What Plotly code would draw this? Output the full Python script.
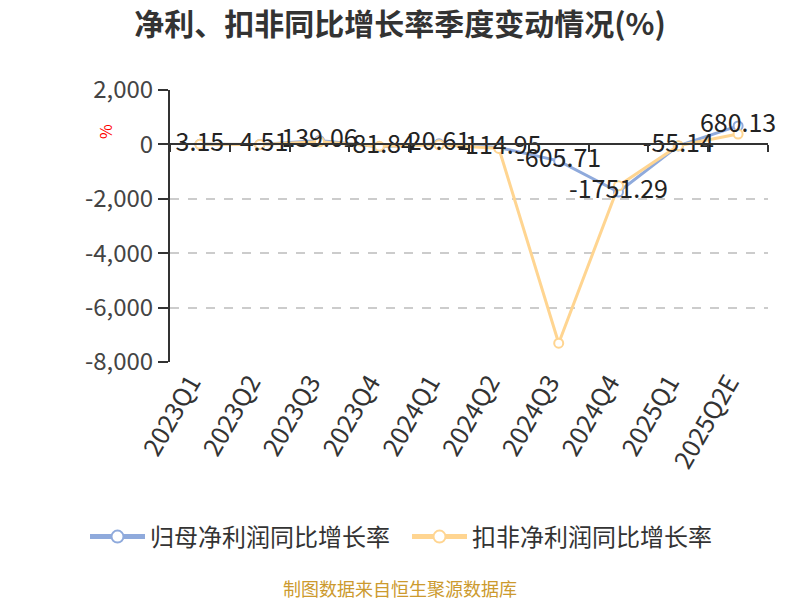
import plotly.graph_objects as go

quarters = ["2023Q1", "2023Q2", "2023Q3", "2023Q4", "2024Q1", "2024Q2",
            "2024Q3", "2024Q4", "2025Q1", "2025Q2E"]
net_profit_yoy = [3.15, -4.51, 139.06, -81.84, 20.61, -114.95,
                  -605.71, -1751.29, -55.14, 680.13]
deducted_yoy = [2, -8, 95, -70, -15, -150, -7310, -1520, -50, 380]
y_ticks = [2000, 0, -2000, -4000, -6000, -8000]
y_tick_text = [f"{v:,}" for v in y_ticks]

FONT = "Noto Sans CJK SC"
BLUE = "#8FAADC"
ORANGE = "#FFD591"

fig = go.Figure()

fig.add_trace(go.Scatter(
    x=quarters, y=net_profit_yoy, name="归母净利润同比增长率",
    mode="lines+markers",
    line=dict(color=BLUE, width=3),
    marker=dict(symbol="circle", size=9, color="white",
                line=dict(color=BLUE, width=2)),
    hoverinfo="skip",
))
fig.add_trace(go.Scatter(
    x=quarters, y=deducted_yoy, name="扣非净利润同比增长率",
    mode="lines+markers",
    line=dict(color=ORANGE, width=3),
    marker=dict(symbol="circle", size=9, color="white",
                line=dict(color=ORANGE, width=2)),
    hoverinfo="skip",
))
# data labels on top
fig.add_trace(go.Scatter(
    x=quarters, y=net_profit_yoy, mode="text",
    text=[f"{v:.2f}" for v in net_profit_yoy],
    textposition="middle center", cliponaxis=False,
    textfont=dict(family=FONT, size=25, color="#222222"),
    showlegend=False, hoverinfo="skip",
))
# helper trace for the zero-positioned category axis
fig.add_trace(go.Scatter(
    x=quarters, y=net_profit_yoy, mode="lines", xaxis="x2",
    line=dict(width=0, color="rgba(0,0,0,0)"),
    showlegend=False, hoverinfo="skip",
))

fig.update_layout(
    width=800, height=600,
    margin=dict(l=162, r=40, t=82, b=246, autoexpand=False),
    paper_bgcolor="white", plot_bgcolor="white",
    font=dict(family=FONT, color="#333333"),
    title=dict(text="<b>净利、扣非同比增长率季度变动情况(%)</b>",
               x=392 / 800, xref="container", xanchor="center",
               y=1 - 16 / 600, yref="container", yanchor="middle",
               font=dict(family=FONT, size=30, color="#333333")),
    xaxis=dict(
        type="category", categoryorder="array", categoryarray=quarters,
        range=[-0.5, 9.5], showgrid=False, showline=False, zeroline=False,
        ticks="", tickangle=-60, automargin=False, ticklabelshift=-9,
        tickfont=dict(family=FONT, size=25, color="#333333"),
    ),
    xaxis2=dict(
        type="category", categoryorder="array", categoryarray=quarters,
        range=[-0.5, 9.5], overlaying="x", anchor="free", position=0.8,
        side="bottom", showline=True, linecolor="#333333", linewidth=2,
        ticks="outside", ticklen=7, tickwidth=2, tickcolor="#333333",
        tickson="boundaries", showticklabels=False, showgrid=False,
        zeroline=False, automargin=False,
    ),
    yaxis=dict(
        range=[-8000, 2000], tickvals=y_ticks, ticktext=y_tick_text,
        showline=True, linecolor="#333333", linewidth=2,
        ticks="outside", ticklen=10, tickwidth=2, tickcolor="#333333",
        showgrid=True, gridcolor="#cccccc", gridwidth=1.5, griddash="dash",
        zeroline=False, automargin=False,
        tickfont=dict(family=FONT, size=24, color="#444444"),
    ),
    legend=dict(
        orientation="h", x=(77 - 162) / 598, xanchor="left",
        y=(354 - 529) / 272, yanchor="middle",
        font=dict(family=FONT, size=24, color="#333333"),
        itemwidth=55, itemsizing="constant", entrywidth=252,
    ),
    annotations=[
        dict(text="%", x=(97 - 162) / 598, y=(354 - 124) / 272,
             xref="paper", yref="paper", showarrow=False, textangle=-90,
             xanchor="center", yanchor="middle",
             font=dict(family=FONT, size=16, color="red")),
        dict(text="制图数据来自恒生聚源数据库", x=(392 - 162) / 598,
             xref="paper", y=(354 - 580) / 272, yref="paper",
             showarrow=False, xanchor="center", yanchor="middle",
             font=dict(family=FONT, size=18, color="#CC9A2E")),
    ],
)

fig.write_html("out.html")
